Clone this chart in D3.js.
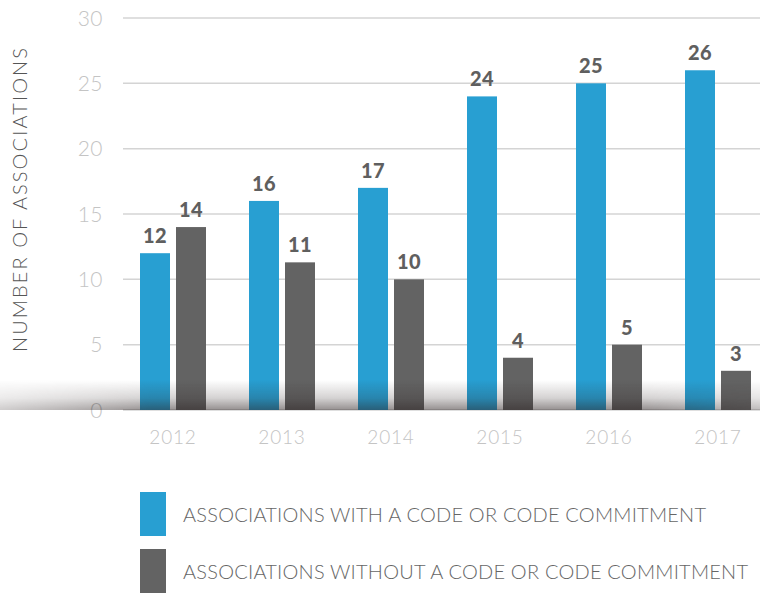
<!DOCTYPE html>
<html><head><meta charset="utf-8">
<script src="https://cdn.jsdelivr.net/npm/d3@7/dist/d3.min.js"></script>
<style>body{margin:0;background:#fff}svg{display:block}</style>
</head><body>
<script>
const categories = ["2012","2013","2014","2015","2016","2017"];
const seriesNames = ["ASSOCIATIONS WITH A CODE OR CODE COMMITMENT","ASSOCIATIONS WITHOUT A CODE OR CODE COMMITMENT"];
const withCode = [12,16,17,24,25,26];
const withoutCode = [14,11.3,10,4,5,3];
const withoutLabels = ["14","11","10","4","5","3"];
const withLabels = ["12","16","17","24","25","26"];
const yTicks = [0,5,10,15,20,25,30];
const colors = ["#289fd2","#636363"];
const yTitle = "NUMBER OF ASSOCIATIONS";

const W=760,H=593;
const svg=d3.select("body").append("svg").attr("width",W).attr("height",H);
const y=d3.scaleLinear().domain([0,30]).range([410,18]);
const x0=d3.scaleBand().domain(categories).range([118.5,772.5]).paddingInner(43/109).paddingOuter(43/218);
const x1=d3.scaleBand().domain([0,1]).range([0,x0.bandwidth()]).paddingInner(1/6);

// grid
svg.append("g").selectAll("line").data(yTicks).join("line")
 .attr("x1",123).attr("x2",W).attr("y1",d=>y(d)).attr("y2",d=>y(d))
 .attr("stroke","#d4d4d4").attr("stroke-width",1.5);
svg.append("g").selectAll("text").data(yTicks).join("text")
 .attr("x",103).attr("y",d=>y(d)).attr("dy","0.36em").attr("text-anchor","end")
 .attr("font-family","Lato").attr("font-weight",300).attr("font-size",21).attr("fill","#c4c4c4")
 .attr("letter-spacing",0.5)
 .text(d=>d);

const data=categories.map((c,i)=>({c,v:[withCode[i],withoutCode[i]],l:[withLabels[i],withoutLabels[i]]}));
const g=svg.append("g").selectAll("g").data(data).join("g").attr("transform",d=>`translate(${x0(d.c)},0)`);
g.selectAll("rect").data(d=>d.v.map((v,k)=>({v,k}))).join("rect")
 .attr("x",d=>x1(d.k)).attr("width",x1.bandwidth()).attr("y",d=>y(d.v)).attr("height",d=>y(0)-y(d.v))
 .attr("fill",d=>colors[d.k]);
g.selectAll("text").data(d=>d.v.map((v,k)=>({v,k,l:d.l[k]}))).join("text")
 .attr("x",d=>x1(d.k)+x1.bandwidth()/2).attr("y",d=>y(d.v)-10).attr("text-anchor","middle")
 .attr("font-family","Lato").attr("font-weight",900).attr("font-size",20).attr("fill","#5f5f5f")
 .attr("letter-spacing",0.5)
 .text(d=>d.l);

// shadow
const defs=svg.append("defs");
const gv=defs.append("linearGradient").attr("id","gv").attr("x1",0).attr("y1",0).attr("x2",0).attr("y2",1);
gv.append("stop").attr("offset","0").attr("stop-color","#2a2020").attr("stop-opacity",0);
gv.append("stop").attr("offset","0.6").attr("stop-color","#2a2020").attr("stop-opacity",0.2);
gv.append("stop").attr("offset","1").attr("stop-color","#2a2020").attr("stop-opacity",0.5);
const gh=defs.append("linearGradient").attr("id","gh").attr("x1",0).attr("y1",0).attr("x2",1).attr("y2",0);
gh.append("stop").attr("offset","0").attr("stop-color","#fff").attr("stop-opacity",0.45);
gh.append("stop").attr("offset","0.2").attr("stop-color","#fff").attr("stop-opacity",1);
gh.append("stop").attr("offset","0.85").attr("stop-color","#fff").attr("stop-opacity",1);
gh.append("stop").attr("offset","1").attr("stop-color","#fff").attr("stop-opacity",0.6);
defs.append("mask").attr("id","mh").append("rect").attr("x",0).attr("y",370).attr("width",W).attr("height",45).attr("fill","url(#gh)");
svg.append("rect").attr("x",0).attr("y",y(0)-30).attr("width",W).attr("height",30)
 .attr("fill","url(#gv)").attr("mask","url(#mh)");

// x labels
svg.append("g").selectAll("text").data(categories).join("text")
 .attr("x",d=>x0(d)+x0.bandwidth()/2).attr("y",437).attr("dy","0.36em").attr("text-anchor","middle")
 .attr("font-family","Lato").attr("font-weight",300).attr("font-size",19).attr("fill","#c4c4c4")
 .attr("letter-spacing",0.8)
 .text(d=>d);

// y title
svg.append("text").attr("transform","translate(20,200) rotate(-90)").attr("text-anchor","middle").attr("dy","0.36em")
 .attr("font-family","Lato").attr("font-weight",300).attr("font-size",20).attr("fill","#555")
 .attr("textLength",304).attr("lengthAdjust","spacing").text(yTitle);

// legend
const lg=svg.append("g").selectAll("g").data(seriesNames).join("g");
lg.append("rect").attr("x",140).attr("y",(d,i)=>492+i*57).attr("width",26).attr("height",44).attr("fill",(d,i)=>colors[i]);
lg.append("text").attr("x",183).attr("y",(d,i)=>515+i*57).attr("dy","0.36em")
 .attr("font-family","Lato").attr("font-weight",300).attr("font-size",20).attr("fill","#666")
 .attr("textLength",(d,i)=>i?565:523).attr("lengthAdjust","spacing").text(d=>d);
</script>
</body></html>
